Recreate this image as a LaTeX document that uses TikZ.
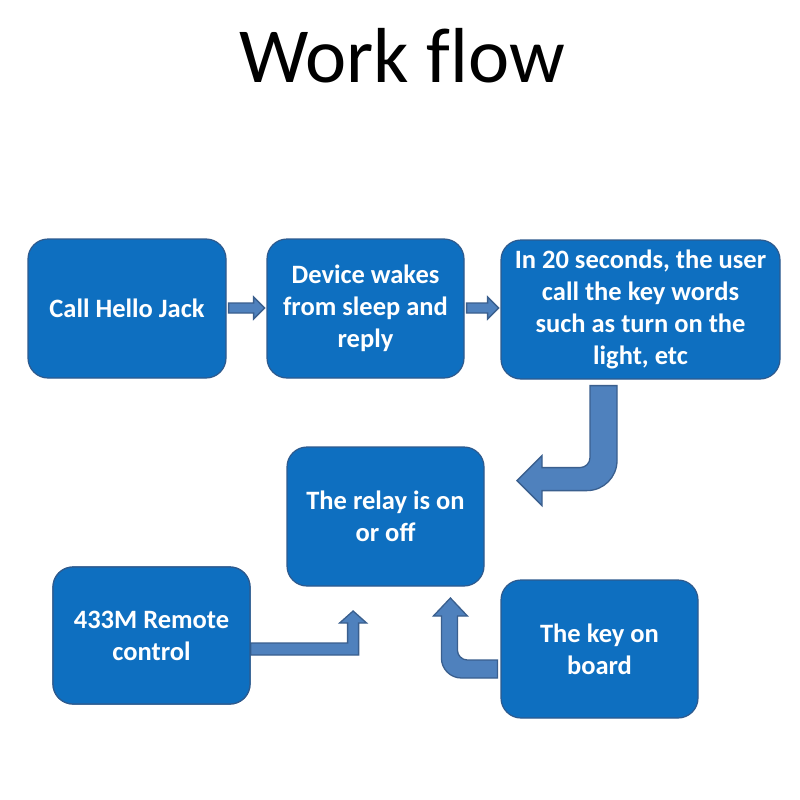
\documentclass[tikz,border=0pt]{standalone}
\usepackage{fontspec}
\setmainfont{Carlito}
\usetikzlibrary{calc}
\definecolor{boxfill}{HTML}{0E6FC0}
\definecolor{boxline}{HTML}{2D5A8E}
\definecolor{arrfill}{HTML}{4F81BD}
\definecolor{arrline}{HTML}{3A5F8E}
\tikzset{
  stepbox/.style={draw=boxline, line width=1.2pt, fill=boxfill, rounded corners=20pt,
    text=white, align=center, inner sep=0pt,
    font=\fontsize{26.5}{32}\selectfont\bfseries},
  blockarrow/.style={draw=arrline, line width=1.3pt, fill=arrfill, line join=miter}
}
\begin{document}
\begin{tikzpicture}[x=1pt,y=-1pt]
\useasboundingbox[fill=white] (0,0) rectangle (800,800);
\node[anchor=base, font=\fontsize{78}{90}\selectfont] (title) at (402,82) {Work f\kern0pt low};

\node[stepbox, minimum width=198pt, minimum height=139pt] (b1) at (127,308.5) {Call Hello Jack};
\node[stepbox, minimum width=197pt, minimum height=139pt] (b2) at (365.5,308.5) {Device wakes\\from sleep and\\reply};
\node[stepbox, minimum width=279pt, minimum height=139pt] (b3) at (640.5,309.5) {In 20 seconds, the user\\call the key words\\such as turn on the\\light, etc};
\node[stepbox, minimum width=197pt, minimum height=139pt] (b4) at (385.5,516.5) {The relay is on\\or off};
\node[stepbox, minimum width=197pt, minimum height=137pt] (b5) at (151.5,635.5) {433M Remote\\control};
\node[stepbox, minimum width=197pt, minimum height=138pt] (b6) at (599.5,649) {The key on\\board};

% arrow 1
\coordinate (a1) at ($(b1.east)+(2,-5.5)$);
\draw[blockarrow] (a1) -- ++(25,0) -- ++(0,-6) -- ++(11,11) -- ++(-11,11) -- ++(0,-6) -- ++(-25,0) -- cycle;
% arrow 2
\coordinate (a2) at ($(b2.east)+(2,-5.5)$);
\draw[blockarrow] (a2) -- ++(21,0) -- ++(0,-6) -- ++(11,11) -- ++(-11,11) -- ++(0,-6) -- ++(-21,0) -- cycle;
% arrow 3 (J)
\coordinate (a3) at ($(b3.south)+(-50.5,6)$);
\draw[blockarrow] (a3) -- ++(27,0) -- ++(0,75) arc[start angle=0,end angle=90,radius=30]
  -- ++(-45,0) -- ++(0,15) -- ++(-25,-25) -- ++(25,-25) -- ++(0,12) -- ++(38,0)
  arc[start angle=90,end angle=0,radius=10] -- cycle;
% arrow 4
\coordinate (a4) at ($(b5.east)+(0,7.5)$);
\draw[blockarrow] (a4) -- ++(97,0) -- ++(0,-20) -- ++(-8,0) -- ++(13.5,-12) -- ++(13.5,12) -- ++(-8,0) -- ++(0,32) -- ++(-108,0) -- cycle;
% arrow 5
\coordinate (a5) at ($(b6.west)+(-3,11)$);
\draw[blockarrow] (a5) -- ++(-30,0) arc[start angle=90,end angle=180,radius=10]
  -- ++(0,-34) -- ++(10,0) -- ++(-17,-18) -- ++(-17,18) -- ++(8,0) -- ++(0,42)
  arc[start angle=180,end angle=90,radius=20] -- ++(36,0) -- cycle;

% redraw box 5 edge over arrow start
\node[stepbox, minimum width=197pt, minimum height=137pt] at (b5) {433M Remote\\control};
\end{tikzpicture}
\end{document}
